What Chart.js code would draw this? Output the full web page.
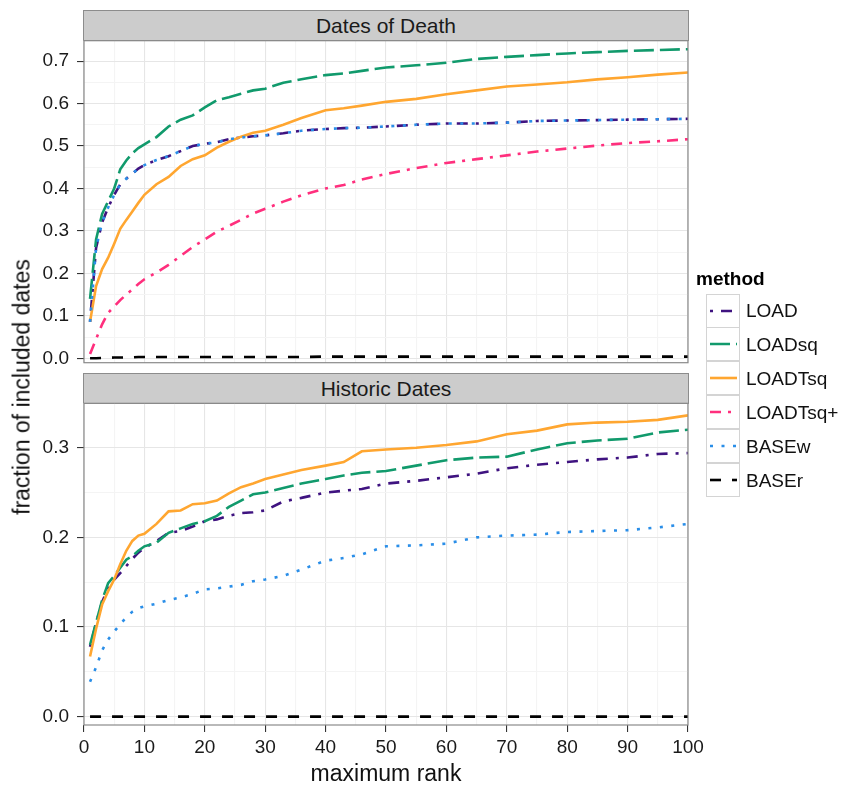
<!DOCTYPE html>
<html>
<head>
<meta charset="utf-8">
<script src="https://cdn.jsdelivr.net/npm/chart.js@4.4.1/dist/chart.umd.min.js"></script>
<style>
  body { margin: 0; background: #fff; font-family: "Liberation Sans", Arial, sans-serif; }
  #wrap { position: relative; width: 843px; height: 787px; overflow: hidden; }
  canvas { position: absolute; left: 0; }
  .strip { position: absolute; left: 83px; width: 604px; height: 29px; background: #cccccc;
           border: 1px solid #8c8c8c; font-size: 21px; line-height: 29px; text-align: center; color: #1a1a1a; }
  #ytitle { position: absolute; left: 22px; top: 387px; transform: translate(-50%, -50%) rotate(-90deg);
            font-size: 23px; white-space: nowrap; color: #111; }
  #xtitle { position: absolute; left: 386px; top: 773px; transform: translate(-50%, -50%);
            font-size: 23px; white-space: nowrap; color: #111; }
  #legend { position: absolute; left: 696px; top: 266px; }
  #legend .ttl { font-weight: bold; font-size: 19px; height: 28px; line-height: 26px; }
  #legend .row { position: relative; height: 34px; margin-left: 10px; }
  #legend .key { position: absolute; left: 0; top: 0; width: 32px; height: 32px; border: 1.5px solid #d4d4d4; background: #fff; }
  #legend .row + .row .key { top: -1px; }
  #legend canvas { position: absolute; left: 0; top: 0; }
  #legend .lab { position: absolute; left: 40px; top: 0; line-height: 34px; font-size: 19px; color: #111; white-space: nowrap; }
</style>
</head>
<body>
<div id="wrap">
  <div class="strip" style="top:10px">Dates of Death</div>
  <div class="strip" style="top:373px">Historic Dates</div>
  <canvas id="death" width="720" height="327" style="top:38px"></canvas>
  <canvas id="hist" width="720" height="387" style="top:400px"></canvas>
  <div id="ytitle">fraction of included dates</div>
  <div id="xtitle">maximum rank</div>
  <div id="legend"><div class="ttl">method</div></div>
</div>
<script>
const ranks = [1, 2, 3, 4, 5, 6, 7, 8, 9, 10, 12, 14, 16, 18, 20, 22, 24, 26, 28, 30,
               33, 36, 40, 43, 46, 50, 55, 60, 65, 70, 75, 80, 85, 90, 95, 100];

// Dates of Death
const deathLOAD = [0.086, 0.26, 0.32, 0.355, 0.385, 0.41, 0.423, 0.435, 0.447, 0.455, 0.467, 0.476, 0.488, 0.50, 0.505, 0.509, 0.516, 0.520, 0.523, 0.525,
                   0.530, 0.536, 0.540, 0.542, 0.543, 0.546, 0.550, 0.553, 0.553, 0.555, 0.559, 0.560, 0.561, 0.562, 0.563, 0.564];
const deathLOADsq = [0.14, 0.28, 0.34, 0.37, 0.40, 0.445, 0.466, 0.483, 0.495, 0.504, 0.521, 0.546, 0.562, 0.572, 0.591, 0.608, 0.615, 0.623, 0.631, 0.635,
                     0.649, 0.657, 0.667, 0.671, 0.677, 0.685, 0.690, 0.696, 0.705, 0.710, 0.714, 0.718, 0.721, 0.724, 0.726, 0.728];
const deathLOADTsq = [0.086, 0.17, 0.21, 0.237, 0.27, 0.305, 0.326, 0.346, 0.366, 0.385, 0.41, 0.427, 0.453, 0.469, 0.478, 0.496, 0.51, 0.522, 0.531, 0.536,
                      0.550, 0.566, 0.584, 0.589, 0.595, 0.604, 0.611, 0.622, 0.631, 0.640, 0.645, 0.650, 0.657, 0.662, 0.668, 0.673];
const deathLOADTsqPlus = [0.01, 0.045, 0.08, 0.107, 0.122, 0.137, 0.150, 0.162, 0.175, 0.186, 0.202, 0.220, 0.241, 0.262, 0.28, 0.298, 0.312, 0.326, 0.341, 0.352,
                          0.369, 0.384, 0.40, 0.408, 0.421, 0.434, 0.448, 0.46, 0.469, 0.478, 0.487, 0.494, 0.501, 0.507, 0.511, 0.516];
// BASEw lies exactly on LOAD in this panel
const deathBASEw = [0.086, 0.26, 0.32, 0.355, 0.385, 0.41, 0.423, 0.435, 0.447, 0.455, 0.467, 0.476, 0.488, 0.50, 0.505, 0.509, 0.516, 0.520, 0.523, 0.525,
                    0.530, 0.536, 0.540, 0.542, 0.543, 0.546, 0.550, 0.553, 0.553, 0.555, 0.559, 0.560, 0.561, 0.562, 0.563, 0.564];
const deathBASEr = [0, 0, 0.001, 0.001, 0.002, 0.002, 0.002, 0.002, 0.003, 0.003, 0.003, 0.003, 0.003, 0.003, 0.003, 0.003, 0.003, 0.003, 0.003, 0.003,
                    0.003, 0.003, 0.004, 0.004, 0.004, 0.004, 0.004, 0.004, 0.004, 0.004, 0.004, 0.004, 0.004, 0.004, 0.004, 0.004];

// Historic Dates
const histLOAD = [0.078, 0.104, 0.128, 0.143, 0.153, 0.160, 0.168, 0.176, 0.183, 0.188, 0.196, 0.205, 0.207, 0.212, 0.218, 0.220, 0.224, 0.227, 0.228, 0.230,
                  0.240, 0.244, 0.250, 0.252, 0.254, 0.260, 0.263, 0.267, 0.271, 0.277, 0.281, 0.284, 0.287, 0.289, 0.293, 0.294];
const histLOADsq = [0.080, 0.105, 0.130, 0.149, 0.157, 0.166, 0.175, 0.179, 0.185, 0.190, 0.194, 0.205, 0.210, 0.215, 0.218, 0.224, 0.234, 0.241, 0.248, 0.250,
                    0.255, 0.260, 0.265, 0.269, 0.272, 0.274, 0.280, 0.286, 0.289, 0.290, 0.298, 0.305, 0.308, 0.310, 0.317, 0.320];
const histLOADTsq = [0.067, 0.098, 0.125, 0.140, 0.153, 0.170, 0.185, 0.196, 0.202, 0.204, 0.215, 0.229, 0.230, 0.237, 0.238, 0.241, 0.249, 0.256, 0.260, 0.265,
                     0.270, 0.275, 0.280, 0.284, 0.296, 0.298, 0.300, 0.303, 0.307, 0.315, 0.319, 0.326, 0.328, 0.329, 0.331, 0.336];
const histBASEw = [0.039, 0.055, 0.074, 0.086, 0.095, 0.103, 0.111, 0.117, 0.121, 0.123, 0.126, 0.130, 0.133, 0.137, 0.142, 0.143, 0.145, 0.147, 0.151, 0.153,
                   0.157, 0.164, 0.174, 0.177, 0.181, 0.190, 0.191, 0.193, 0.200, 0.202, 0.203, 0.206, 0.207, 0.208, 0.211, 0.215];
const histBASEr = [0, 0, 0, 0, 0, 0, 0, 0, 0, 0, 0, 0, 0, 0, 0, 0, 0, 0, 0, 0,
                   0, 0, 0, 0, 0, 0, 0, 0, 0, 0, 0, 0, 0, 0, 0, 0];

const xTicks = [0, 10, 20, 30, 40, 50, 60, 70, 80, 90, 100];

// method styles (ggplot linetypes scaled by line width)
const methods = [
  { name: 'LOAD',     color: '#3f1380', dash: [3, 8, 11, 8] },
  { name: 'LOADsq',   color: '#119a6c', dash: [20, 6] },
  { name: 'LOADTsq',  color: '#ffa630', dash: [] },
  { name: 'LOADTsq+', color: '#ff2f7d', dash: [11, 7, 3, 7] },
  { name: 'BASEw',    color: '#2a8ee8', dash: [3, 8.5] },
  { name: 'BASEr',    color: '#000000', dash: [11, 11] }
];
const LW = 2.6;

Chart.defaults.font.family = '"Liberation Sans", Arial, sans-serif';

function isMajor(v, unit) { return Math.abs(Math.round(v / unit) * unit - v) < 1e-9; }

const panelBorder = {
  id: 'panelBorder',
  afterDraw(chart) {
    const a = chart.chartArea, c = chart.ctx;
    c.save();
    c.strokeStyle = '#8a8a8a';
    c.lineWidth = 1.2;
    c.strokeRect(a.left, a.top, a.right - a.left, a.bottom - a.top);
    c.restore();
  }
};

// no extra room for overhanging edge labels: the panels are placed by hand
function noOverhang(s) {
  s.paddingLeft = 0; s.paddingRight = 0; s.paddingTop = 0; s.paddingBottom = 0;
}

function makePanel(id, series, ymin, ymax, showX, pad, xHeight) {
  const datasets = [];
  series.forEach((vals, i) => {
    if (!vals) return;
    const m = methods[i];
    datasets.push({
      label: m.name,
      data: ranks.map((r, k) => ({ x: r, y: vals[k] })),
      borderColor: m.color,
      borderWidth: LW,
      borderDash: m.dash,
      borderCapStyle: 'butt',
      pointRadius: 0,
      tension: 0,
      fill: false,
      order: 10 - i
    });
  });
  return new Chart(document.getElementById(id), {
    type: 'line',
    data: { datasets: datasets },
    options: {
      responsive: false,
      animation: false,
      layout: { autoPadding: false, padding: { left: 0, right: 32, top: pad[0], bottom: pad[1] } },
      plugins: { legend: { display: false }, tooltip: { enabled: false } },
      scales: {
        x: {
          type: 'linear', min: 0, max: 100,
          afterFit: s => { s.height = xHeight; noOverhang(s); },
          ticks: {
            display: showX, stepSize: 5, autoSkip: false, maxRotation: 0, padding: 4,
            color: '#1a1a1a', font: { size: 19 },
            callback: v => xTicks.includes(v) ? String(v) : ''
          },
          grid: {
            drawTicks: showX, tickLength: 7,
            color: ctx => isMajor(ctx.tick.value, 10) ? '#e6e6e6' : '#f4f4f4',
            tickColor: ctx => isMajor(ctx.tick.value, 10) ? '#333333' : 'rgba(0,0,0,0)',
            lineWidth: 1.1
          },
          border: { display: false }
        },
        y: {
          type: 'linear', min: ymin, max: ymax,
          afterFit: s => { s.width = 84; noOverhang(s); },
          ticks: {
            stepSize: 0.05, includeBounds: false, autoSkip: false, padding: 8,
            color: '#1a1a1a', font: { size: 19 },
            callback: v => isMajor(v, 0.1) ? v.toFixed(1) : ''
          },
          grid: {
            tickLength: 7,
            color: ctx => isMajor(ctx.tick.value, 0.1) ? '#e6e6e6' : '#f4f4f4',
            tickColor: ctx => isMajor(ctx.tick.value, 0.1) ? '#333333' : 'rgba(0,0,0,0)',
            lineWidth: 1.1
          },
          border: { display: false }
        }
      }
    },
    plugins: [panelBorder]
  });
}

makePanel('death', [deathLOAD, deathLOADsq, deathLOADTsq, deathLOADTsqPlus, deathBASEw, deathBASEr],
          -0.0104, 0.748, false, [2.7, 2.3], 0);
makePanel('hist', [histLOAD, histLOADsq, histLOADTsq, null, histBASEw, histBASEr],
          -0.0093, 0.3495, true, [3.3, 0], 62);

// legend keys
const legend = document.getElementById('legend');
methods.forEach(m => {
  const row = document.createElement('div');
  row.className = 'row';
  row.innerHTML = '<div class="key"><canvas width="32" height="32"></canvas></div><div class="lab"></div>';
  row.querySelector('.lab').textContent = m.name;
  legend.appendChild(row);
  const c = row.querySelector('canvas').getContext('2d');
  c.strokeStyle = m.color;
  c.lineWidth = LW;
  c.setLineDash(m.dash);
  c.beginPath();
  c.moveTo(3, 16);
  c.lineTo(30, 16);
  c.stroke();
});
</script>
</body>
</html>
